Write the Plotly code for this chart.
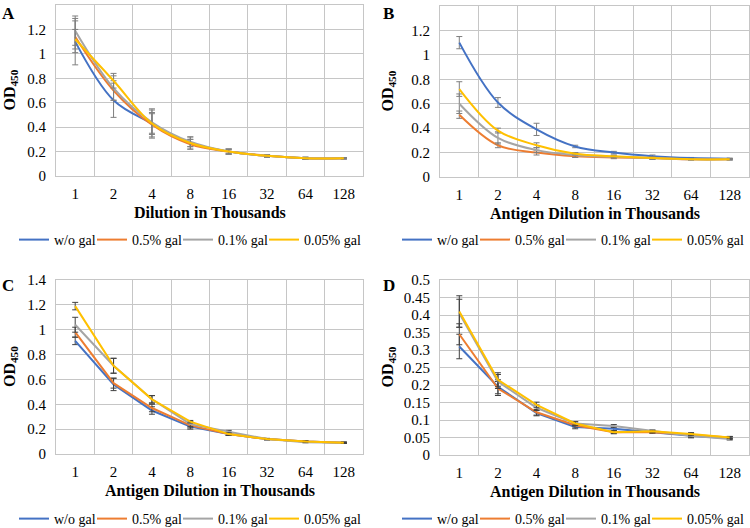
import plotly.graph_objects as go

dilutions = ["1", "2", "4", "8", "16", "32", "64", "128"]
series_names = ["w/o gal", "0.5% gal", "0.1% gal", "0.05% gal"]
colors = ["#4472C4", "#ED7D31", "#A5A5A5", "#FFC000"]

# Panel A
a_wo = [1.10, 0.62, 0.43, 0.27, 0.20, 0.165, 0.145, 0.145]
a_05 = [1.14, 0.70, 0.42, 0.26, 0.20, 0.165, 0.145, 0.145]
a_01 = [1.19, 0.72, 0.44, 0.28, 0.20, 0.165, 0.145, 0.145]
a_005 = [1.12, 0.78, 0.43, 0.27, 0.20, 0.165, 0.145, 0.145]
a_wo_err = [0.19, 0.14, 0.12, 0.05, 0.02, 0.01, 0.008, 0.005]
a_05_err = [0.13, 0.08, 0.10, 0.04, 0.02, 0.01, 0.008, 0.005]
a_01_err = [0.12, 0.10, 0.10, 0.04, 0.02, 0.01, 0.008, 0.005]
a_005_err = [0.08, 0.06, 0.08, 0.03, 0.02, 0.01, 0.008, 0.005]

# Panel B
b_wo = [1.10, 0.61, 0.39, 0.25, 0.20, 0.17, 0.155, 0.15]
b_05 = [0.51, 0.26, 0.20, 0.17, 0.16, 0.155, 0.145, 0.145]
b_01 = [0.60, 0.32, 0.22, 0.18, 0.165, 0.155, 0.145, 0.145]
b_005 = [0.72, 0.38, 0.26, 0.19, 0.17, 0.155, 0.145, 0.145]
b_wo_err = [0.05, 0.04, 0.05, 0.01, 0.01, 0.01, 0.005, 0.005]
b_05_err = [0.03, 0.02, 0.02, 0.01, 0.01, 0.01, 0.005, 0.005]
b_01_err = [0.08, 0.05, 0.02, 0.02, 0.01, 0.01, 0.005, 0.005]
b_005_err = [0.06, 0.02, 0.02, 0.01, 0.01, 0.01, 0.005, 0.005]

# Panel C
c_wo = [0.91, 0.56, 0.35, 0.22, 0.16, 0.12, 0.10, 0.09]
c_05 = [0.98, 0.57, 0.37, 0.23, 0.16, 0.12, 0.10, 0.09]
c_01 = [1.04, 0.71, 0.44, 0.24, 0.18, 0.12, 0.095, 0.09]
c_005 = [1.19, 0.71, 0.44, 0.26, 0.16, 0.12, 0.10, 0.09]
c_wo_err = [0.03, 0.05, 0.03, 0.02, 0.01, 0.005, 0.005, 0.005]
c_05_err = [0.04, 0.04, 0.03, 0.02, 0.01, 0.005, 0.005, 0.005]
c_01_err = [0.06, 0.06, 0.03, 0.02, 0.01, 0.005, 0.005, 0.005]
c_005_err = [0.03, 0.06, 0.03, 0.01, 0.01, 0.005, 0.005, 0.005]

# Panel D
d_wo = [0.31, 0.195, 0.12, 0.08, 0.075, 0.065, 0.055, 0.048]
d_05 = [0.345, 0.19, 0.122, 0.085, 0.065, 0.065, 0.058, 0.05]
d_01 = [0.405, 0.21, 0.135, 0.09, 0.083, 0.068, 0.055, 0.046]
d_005 = [0.41, 0.215, 0.143, 0.09, 0.065, 0.068, 0.06, 0.05]
d_wo_err = [0.035, 0.02, 0.008, 0.005, 0.005, 0.003, 0.006, 0.004]
d_05_err = [0.03, 0.02, 0.008, 0.005, 0.004, 0.003, 0.004, 0.003]
d_01_err = [0.04, 0.02, 0.008, 0.005, 0.004, 0.003, 0.004, 0.003]
d_005_err = [0.045, 0.02, 0.008, 0.005, 0.004, 0.003, 0.004, 0.003]

panels = [
    dict(label="A", vals=[a_wo, a_05, a_01, a_005], errs=[a_wo_err, a_05_err, a_01_err, a_005_err],
         shape="spline", xt="Dilution in Thousands", ymax=1.4, dtick=0.2, errc="#7F7F7F",
         xd=[56/750, 363/750], yd=[1-176/528, 1-5/528], leg=(190/750, 1-240/528), lt=1-2/528),
    dict(label="B", vals=[b_wo, b_05, b_01, b_005], errs=[b_wo_err, b_05_err, b_01_err, b_005_err],
         shape="spline", xt="Antigen Dilution in Thousands", ymax=1.4, dtick=0.2, errc="#7F7F7F",
         xd=[440/750, 749/750], yd=[1-177/528, 1-6/528], leg=(573/750, 1-240/528), lt=1-2/528),
    dict(label="C", vals=[c_wo, c_05, c_01, c_005], errs=[c_wo_err, c_05_err, c_01_err, c_005_err],
         shape="linear", xt="Antigen Dilution in Thousands", ymax=1.4, dtick=0.2, errc="#404040",
         xd=[56/750, 363/750], yd=[1-454/528, 1-280/528], leg=(190/750, 1-519/528), lt=1-274/528),
    dict(label="D", vals=[d_wo, d_05, d_01, d_005], errs=[d_wo_err, d_05_err, d_01_err, d_005_err],
         shape="linear", xt="Antigen Dilution in Thousands", ymax=0.5, dtick=0.05, errc="#404040",
         xd=[440/750, 749/750], yd=[1-455/528, 1-280/528], leg=(573/750, 1-519/528), lt=1-274/528),
]

FONT = "Liberation Serif, Times New Roman, DejaVu Serif, serif"
GRID = "#C6C6C6"
# legend entry text-area widths (px), so the entries sit close together like the original
entry_widths = [33, 41, 41, 57]

fig = go.Figure()
layout = dict(
    width=750, height=528, margin=dict(l=0, r=0, t=0, b=0, autoexpand=False),
    paper_bgcolor="white", plot_bgcolor="white",
    font=dict(family=FONT, size=14, color="#000000"),
    annotations=[],
)

for i, p in enumerate(panels):
    n = "" if i == 0 else str(i + 1)
    xref = "x" + n
    yref = "y" + n
    legname = "legend" + n
    for j in range(4):
        fig.add_trace(go.Scatter(
            x=dilutions, y=p["vals"][j], name=series_names[j], mode="lines",
            line=dict(color=colors[j], width=2, shape=p["shape"], smoothing=1.0),
            error_y=dict(type="data", array=p["errs"][j], visible=True,
                         color=p["errc"], thickness=1, width=3),
            xaxis=xref, yaxis=yref, legend=legname, legendwidth=entry_widths[j],
        ))
    layout["xaxis" + n] = dict(
        domain=p["xd"], anchor=yref, type="category", range=[-0.5, 7.5],
        tickson="boundaries", showgrid=True, gridcolor=GRID, gridwidth=1,
        ticks="", showline=True, linecolor=GRID, mirror=True, automargin=False,
        tickfont=dict(family=FONT, size=15), ticklabelstandoff=4, fixedrange=True,
    )
    layout["yaxis" + n] = dict(
        domain=p["yd"], anchor=xref, range=[0, p["ymax"]], dtick=p["dtick"], tick0=0,
        showgrid=True, gridcolor=GRID, gridwidth=1, zeroline=False, automargin=False,
        ticks="", showline=True, linecolor=GRID, mirror=True,
        tickfont=dict(family=FONT, size=15), ticklabelstandoff=6, fixedrange=True,
    )
    layout[legname] = dict(
        orientation="h", x=p["leg"][0], y=p["leg"][1], xanchor="center", yanchor="middle",
        font=dict(family=FONT, size=14), bgcolor="rgba(0,0,0,0)",
        itemwidth=30, tracegroupgap=0, entrywidthmode="pixels",
    )
    x0, x1 = p["xd"]
    y0, y1 = p["yd"]
    # panel letter
    layout["annotations"].append(dict(
        text="<b>%s</b>" % p["label"], xref="paper", yref="paper",
        x=(x0 - 56/750) if i % 2 == 0 else (x0 - 59/750), y=p["lt"],
        xanchor="left", yanchor="top", showarrow=False,
        font=dict(family=FONT, size=17),
    ))
    # x title
    layout["annotations"].append(dict(
        text="<b>%s</b>" % p["xt"], xref="paper", yref="paper",
        x=(x0 + x1) / 2, y=y0 - 37/528, xanchor="center", yanchor="middle",
        showarrow=False, font=dict(family=FONT, size=16),
    ))
    # y title
    layout["annotations"].append(dict(
        text="<b>OD<sub>450</sub></b>", xref="paper", yref="paper",
        x=x0 - (46/750 if i % 2 == 0 else 52/750), y=(y0 + y1) / 2,
        xanchor="center", yanchor="middle", textangle=-90,
        showarrow=False, font=dict(family=FONT, size=16),
    ))

fig.update_layout(**layout)
fig.write_html("out.html", config={"displayModeBar": False, "staticPlot": True},
               post_script="document.body.style.margin='0';")
